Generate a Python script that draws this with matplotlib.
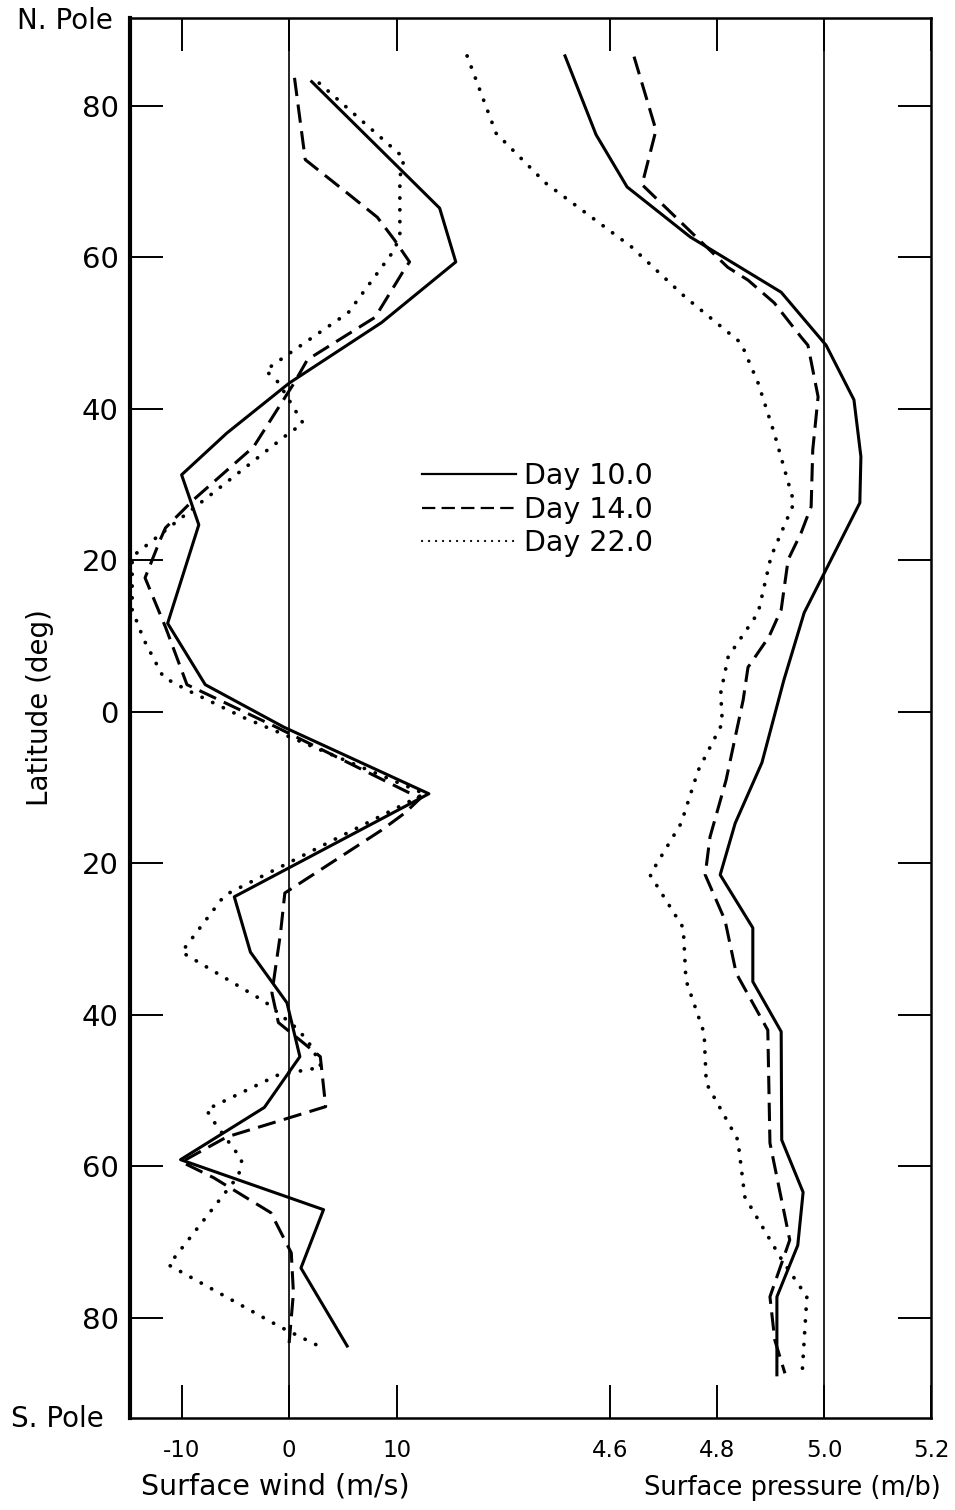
import matplotlib
matplotlib.use('agg')
import matplotlib.pyplot as plt

# surface wind (m/s), latitude in deg (south negative)
wind_lat_d10 = [83.2, 66.5, 59.4, 51.4, 43.4, 36.8, 31.3, 24.7, 11.7, 3.6, -2.0, -10.8,
                -24.4, -31.7, -38.4, -45.5, -52.2, -59.1, -65.7, -73.4, -83.7]
wind_d10 = [2.1, 14.0, 15.5, 8.6, 0.0, -5.8, -10.0, -8.4, -11.3, -7.8, -0.5, 13.0,
            -5.1, -3.6, -0.2, 1.0, -2.3, -10.1, 3.2, 1.1, 5.4]

wind_lat_d14 = [83.7, 72.9, 68.5, 65.3, 62.3, 59.4, 58.6, 52.1, 46.5, 43.5, 35.0, 28.0,
                24.3, 22.7, 17.7, 11.2, 3.6, -2.0, -11.4, -13.3, -15.6, -23.9, -29.2,
                -37.1, -41.0, -45.5, -52.1, -56.1, -59.4, -61.5, -66.1, -71.4, -76.7, -83.3]
wind_d14 = [0.5, 1.5, 5.4, 8.2, 9.8, 11.2, 10.8, 8.0, 1.7, 0.5, -3.3, -8.9,
            -11.5, -12.0, -13.4, -11.5, -9.5, -1.2, 12.2, 10.8, 8.6, -0.4, -0.8,
            -1.6, -1.0, 2.9, 3.4, -5.8, -10.0, -7.0, -1.7, 0.2, 0.4, 0.0]

wind_lat_d22 = [83.0, 73.1, 70.6, 63.0, 61.0, 52.7, 47.8, 45.1, 43.5, 38.1, 36.6, 20.5,
                13.5, 9.5, 4.6, 2.9, -0.7, -10.8, -24.2, -31.7, -38.3, -42.0, -44.2,
                -46.9, -47.9, -52.5, -54.5, -59.1, -61.2, -73.0, -81.2, -83.8]
wind_d22 = [2.8, 10.7, 10.3, 10.3, 9.8, 5.5, 0.5, -2.2, -1.0, 1.3, -0.2, -14.6,
            -14.6, -13.5, -11.7, -9.5, -4.3, 12.6, -6.0, -10.0, -2.2, 0.9, 2.1,
            3.0, -1.0, -7.7, -6.8, -4.4, -4.7, -11.2, -0.8, 2.9]

# surface pressure (m/b)
pres_lat_d10 = [86.6, 76.2, 69.3, 62.7, 55.4, 48.4, 41.2, 33.7, 27.6, 13.1, 4.2, -6.7,
                -14.7, -21.5, -28.5, -35.6, -42.2, -56.5, -63.4, -70.4, -77.2, -87.5]
pres_d10 = [4.516, 4.574, 4.632, 4.750, 4.920, 5.004, 5.056, 5.069, 5.067, 4.963, 4.925, 4.884,
            4.834, 4.806, 4.867, 4.867, 4.920, 4.921, 4.961, 4.951, 4.912, 4.912]

pres_lat_d14 = [86.5, 76.8, 69.6, 62.7, 58.7, 57.0, 54.0, 49.5, 48.4, 41.6, 34.6, 27.1,
                23.6, 20.1, 13.5, 9.9, 5.9, 1.6, -9.0, -16.5, -21.5, -27.5, -34.5,
                -42.0, -56.9, -69.7, -77.2, -82.9, -87.3]
pres_d14 = [4.645, 4.686, 4.660, 4.761, 4.820, 4.858, 4.907, 4.957, 4.970, 4.989, 4.979, 4.976,
            4.957, 4.933, 4.920, 4.897, 4.858, 4.849, 4.817, 4.787, 4.778, 4.815, 4.836,
            4.895, 4.899, 4.936, 4.899, 4.908, 4.927]

pres_lat_d22 = [86.6, 76.4, 69.8, 61.4, 54.8, 48.7, 43.4, 36.8, 27.6, 20.5, 13.1, 7.3,
                2.5, -1.5, -7.7, -14.7, -21.5, -28.5, -35.4, -42.4, -49.0, -56.5,
                -64.0, -72.3, -77.2, -87.5]
pres_d22 = [4.333, 4.387, 4.480, 4.640, 4.740, 4.845, 4.877, 4.907, 4.944, 4.901, 4.877, 4.821,
            4.807, 4.810, 4.765, 4.733, 4.675, 4.737, 4.742, 4.776, 4.780, 4.839,
            4.852, 4.921, 4.968, 4.959]

labels = ['Day 10.0', 'Day 14.0', 'Day 22.0']
lat_ticks = [80, 60, 40, 20, 0, -20, -40, -60, -80]
wind_ticks = [-10, 0, 10]
pres_ticks = [4.6, 4.8, 5.0, 5.2]

solid = dict(color='black', lw=2.2, linestyle='-')
dashed = dict(color='black', lw=2.2, linestyle=(0, (6, 2.8)))
dotted = dict(color='black', lw=2.7, linestyle=(0, (0.05, 3.1)), dash_capstyle='round')

fig = plt.figure(figsize=(9.55, 15.1), dpi=100)
ax = fig.add_axes([130 / 955, 1 - 1418 / 1510, 801 / 955, 1400 / 1510])
ax2 = ax.twiny()

ax.set_xlim(-14.8, 59.7)
ax2.set_xlim(3.703, 5.2)
ax.set_ylim(-93.2, 91.6)

ax.axvline(0, color='black', lw=1.2)
ax2.axvline(5.0, color='black', lw=1.2)

l1, = ax.plot(wind_d10, wind_lat_d10, **solid)
l2, = ax.plot(wind_d14, wind_lat_d14, **dashed)
l3, = ax.plot(wind_d22, wind_lat_d22, **dotted)
ax2.plot(pres_d10, pres_lat_d10, **solid)
ax2.plot(pres_d14, pres_lat_d14, **dashed)
ax2.plot(pres_d22, pres_lat_d22, **dotted)

# spines
for s in ax.spines.values():
    s.set_linewidth(1.8)
ax.spines['left'].set_linewidth(3.0)
for s in ax2.spines.values():
    s.set_visible(False)

# ticks
ax.set_yticks(lat_ticks, [str(abs(v)) for v in lat_ticks])
ax.tick_params(axis='y', direction='in', length=24, width=1.4, right=True,
               labelright=False, labelsize=21, pad=8)
ax.set_xticks(wind_ticks, ['-10', '0', '10'])
ax.tick_params(axis='x', direction='in', length=24, width=1.4, top=True,
               labeltop=False, labelsize=16.5, pad=15)
ax2.set_xticks(pres_ticks, ['4.6', '4.8', '5.0', '5.2'])
ax2.xaxis.set_ticks_position('both')
ax2.tick_params(axis='x', direction='in', length=24, width=1.4, labelbottom=True,
                labeltop=False, labelsize=16.5, pad=15)

ax.text(-0.021, 0.998, 'N. Pole', transform=ax.transAxes, ha='right', va='center', fontsize=20)
ax.text(-0.033, -0.001, 'S. Pole', transform=ax.transAxes, ha='right', va='center', fontsize=20)
fig.text(40 / 955, 1 - 708 / 1510, 'Latitude (deg)', rotation=90, ha='center', va='center',
         fontsize=20)
fig.text(275 / 955, 1 - 1495 / 1510, 'Surface wind (m/s)', ha='center', va='baseline',
         fontsize=20.5)
fig.text(792 / 955, 1 - 1495 / 1510, 'Surface pressure (m/b)', ha='center', va='baseline',
         fontsize=18.5)

leg = ax.legend([l1, l2, l3], labels, loc='upper left',
                bbox_to_anchor=(422 / 955, 1 - 462 / 1510), bbox_transform=fig.transFigure,
                frameon=False, fontsize=20.5, handlelength=3.3, handletextpad=0.3,
                labelspacing=0.2, borderpad=0, borderaxespad=0)
for ln in leg.get_lines():
    ln.set_linewidth(1.6)

fig.savefig('out.png', dpi=100)
